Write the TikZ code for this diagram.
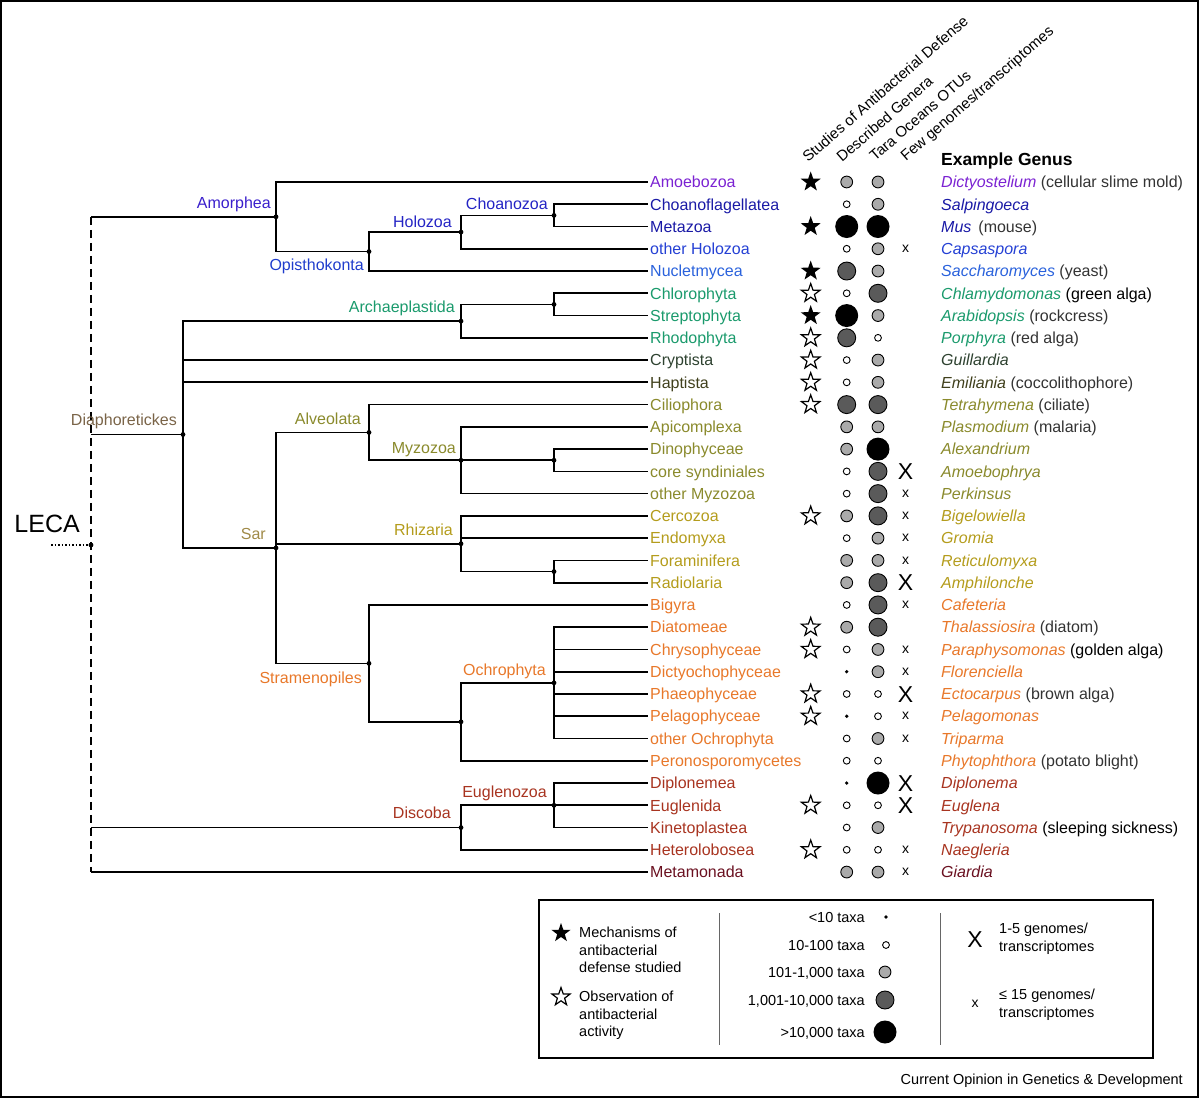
\documentclass[tikz,border=0pt]{standalone}
\usepackage{fontspec}
\setmainfont{Liberation Sans}
\usetikzlibrary{shapes.geometric}
\definecolor{cAmoeb}{HTML}{7B22D2}
\definecolor{cChoano}{HTML}{1A1AA6}
\definecolor{cAmor}{HTML}{3A1FCC}
\definecolor{cHolo}{HTML}{2424C4}
\definecolor{cOpis}{HTML}{1F3CCC}
\definecolor{cOHolo}{HTML}{2440D4}
\definecolor{cNucl}{HTML}{2A62DC}
\definecolor{cArch}{HTML}{1A9A6C}
\definecolor{cCrypt}{HTML}{2E4230}
\definecolor{cHapt}{HTML}{40401C}
\definecolor{cAlv}{HTML}{8A8A2C}
\definecolor{cRhiz}{HTML}{B49C1C}
\definecolor{cSar}{HTML}{A08A48}
\definecolor{cDiaph}{HTML}{7A6448}
\definecolor{cStram}{HTML}{E8782A}
\definecolor{cDisc}{HTML}{A83420}
\definecolor{cMeta}{HTML}{6A1020}
\definecolor{cNote}{HTML}{333333}
\definecolor{cLG}{HTML}{AAAAAA}
\definecolor{cDG}{HTML}{5A5A5A}
\newcommand\gnm[2]{\textcolor{#1}{\itshape #2}}
\begin{document}
\begin{tikzpicture}[x=1pt,y=-1pt,
  branch/.style={line width=1.7pt, black},
  fs16/.style={font=\fontsize{16}{19}\selectfont},
  leaf/.style={fs16, anchor=west, inner xsep=2pt, inner ysep=0pt, text height=11.5pt, text depth=0pt},
  clade/.style={fs16, anchor=east, inner sep=0pt, text height=11.5pt, text depth=0pt},
  genus/.style={fs16, anchor=west, inner sep=0pt, text height=11.5pt, text depth=0pt, text=cNote},
  hdr/.style={font=\fontsize{15}{18}\selectfont, anchor=base west, rotate=41, inner sep=0pt},
  leg/.style={font=\fontsize{14.5}{17.5}\selectfont, inner sep=0pt},
  legc/.style={leg, anchor=east, text height=10.4pt, text depth=0pt},
  legm/.style={leg, anchor=north west, align=left},
  cT/.style={circle, fill=black, inner sep=0pt, minimum size=3.6pt},
  cS/.style={circle, draw=black, line width=0.9pt, fill=white, inner sep=0pt, minimum size=6.8pt},
  cL/.style={circle, draw=black, line width=0.9pt, fill=cLG, inner sep=0pt, minimum size=11.8pt},
  cD/.style={circle, draw=black, line width=0.9pt, fill=cDG, inner sep=0pt, minimum size=18pt},
  cB/.style={circle, fill=black, inner sep=0pt, minimum size=23pt},
  starF/.style={star, star points=5, star point ratio=2.5, fill=black, inner sep=0pt, minimum size=21pt},
  starO/.style={star, star points=5, star point ratio=2.5, draw=black, line width=1.2pt, fill=white, inner sep=0pt, minimum size=19.5pt},
  xmX/.style={font=\fontsize{23}{23}\selectfont, inner sep=0pt, text height=16.5pt, text depth=0pt},
  xmx/.style={font=\fontsize{14}{14}\selectfont, inner sep=0pt, text height=7.3pt, text depth=0pt}
]
\useasboundingbox (0,0) rectangle (1200,1099);
\draw[line width=1.5pt] (1,1) rectangle (1198,1097);

% ---------- leaves ----------
\node[leaf, text=cAmoeb]  (l1)  at (648,182.00) {Amoebozoa};
\node[leaf, text=cChoano] (l2)  at (648,204.26) {Choanoflagellatea};
\node[leaf, text=cChoano] (l3)  at (648,226.52) {Metazoa};
\node[leaf, text=cOHolo]  (l4)  at (648,248.78) {other Holozoa};
\node[leaf, text=cNucl]   (l5)  at (648,271.04) {Nucletmycea};
\node[leaf, text=cArch]   (l6)  at (648,293.30) {Chlorophyta};
\node[leaf, text=cArch]   (l7)  at (648,315.56) {Streptophyta};
\node[leaf, text=cArch]   (l8)  at (648,337.82) {Rhodophyta};
\node[leaf, text=cCrypt]  (l9)  at (648,360.08) {Cryptista};
\node[leaf, text=cHapt]   (l10) at (648,382.34) {Haptista};
\node[leaf, text=cAlv]    (l11) at (648,404.60) {Ciliophora};
\node[leaf, text=cAlv]    (l12) at (648,426.86) {Apicomplexa};
\node[leaf, text=cAlv]    (l13) at (648,449.12) {Dinophyceae};
\node[leaf, text=cAlv]    (l14) at (648,471.38) {core syndiniales};
\node[leaf, text=cAlv]    (l15) at (648,493.64) {other Myzozoa};
\node[leaf, text=cRhiz]   (l16) at (648,515.90) {Cercozoa};
\node[leaf, text=cRhiz]   (l17) at (648,538.16) {Endomyxa};
\node[leaf, text=cRhiz]   (l18) at (648,560.42) {Foraminifera};
\node[leaf, text=cRhiz]   (l19) at (648,582.68) {Radiolaria};
\node[leaf, text=cStram]  (l20) at (648,604.94) {Bigyra};
\node[leaf, text=cStram]  (l21) at (648,627.20) {Diatomeae};
\node[leaf, text=cStram]  (l22) at (648,649.46) {Chrysophyceae};
\node[leaf, text=cStram]  (l23) at (648,671.72) {Dictyochophyceae};
\node[leaf, text=cStram]  (l24) at (648,693.98) {Phaeophyceae};
\node[leaf, text=cStram]  (l25) at (648,716.24) {Pelagophyceae};
\node[leaf, text=cStram]  (l26) at (648,738.50) {other Ochrophyta};
\node[leaf, text=cStram]  (l27) at (648,760.76) {Peronosporomycetes};
\node[leaf, text=cDisc]   (l28) at (648,783.02) {Diplonemea};
\node[leaf, text=cDisc]   (l29) at (648,805.28) {Euglenida};
\node[leaf, text=cDisc]   (l30) at (648,827.54) {Kinetoplastea};
\node[leaf, text=cDisc]   (l31) at (648,849.80) {Heterolobosea};
\node[leaf, text=cMeta]   (l32) at (648,872.06) {Metamonada};

% ---------- internal nodes ----------
\coordinate (choanozoa)  at (554,215.39);
\coordinate (holozoa)    at (461,232.08);
\coordinate (opistho)    at (369,251.56);
\coordinate (amorphea)   at (276,216.78);
\coordinate (chlstr)     at (554,304.43);
\coordinate (archae)     at (461,321.13);
\coordinate (dinocore)   at (554,460.25);
\coordinate (myzozoa)    at (461,460.25);
\coordinate (alveolata)  at (369,432.43);
\coordinate (forrad)     at (554,571.55);
\coordinate (rhizaria)   at (461,543.73);
\coordinate (ochrophyta) at (554,682.85);
\coordinate (ochropar)   at (461,721.80);
\coordinate (stramen)    at (369,663.37);
\coordinate (sar)        at (276,547.90);
\coordinate (diaph)      at (183,434.50);
\coordinate (euglenozoa) at (554,805.28);
\coordinate (discoba)    at (461,827.54);
\coordinate (root)       at (91,545);
\coordinate (rtop)       at (91,216.78);
\coordinate (rbot)       at (91,872.06);
\coordinate (lecaend)    at (51,545);

% ---------- branches ----------
\draw[branch, dash pattern=on 8pt off 5pt] (rtop) -- (rbot);
\draw[line width=1.5pt, dotted] (lecaend) -- (root);
\draw[branch] (rtop) -- (amorphea);
\draw[branch] (root |- diaph) -- (diaph);
\draw[branch] (root |- discoba) -- (discoba);
\draw[branch] (root |- l32.west) -- (l32.west);

\draw[branch] (amorphea) |- (l1.west);
\draw[branch] (amorphea) |- (opistho);
\draw[branch] (opistho) |- (holozoa);
\draw[branch] (opistho) |- (l5.west);
\draw[branch] (holozoa) |- (choanozoa);
\draw[branch] (holozoa) |- (l4.west);
\draw[branch] (choanozoa) |- (l2.west);
\draw[branch] (choanozoa) |- (l3.west);

\draw[branch] (diaph) |- (archae);
\draw[branch] (diaph) |- (l9.west);
\draw[branch] (diaph) |- (l10.west);
\draw[branch] (diaph) |- (sar);
\draw[branch] (archae) |- (chlstr);
\draw[branch] (archae) |- (l8.west);
\draw[branch] (chlstr) |- (l6.west);
\draw[branch] (chlstr) |- (l7.west);

\draw[branch] (sar) |- (alveolata);
\draw[branch] (sar) |- (rhizaria);
\draw[branch] (sar) |- (stramen);
\draw[branch] (alveolata) |- (l11.west);
\draw[branch] (alveolata) |- (myzozoa);
\draw[branch] (myzozoa) |- (l12.west);
\draw[branch] (myzozoa) -- (dinocore);
\draw[branch] (myzozoa) |- (l15.west);
\draw[branch] (dinocore) |- (l13.west);
\draw[branch] (dinocore) |- (l14.west);
\draw[branch] (rhizaria) |- (l16.west);
\draw[branch] (rhizaria) |- (l17.west);
\draw[branch] (rhizaria) |- (forrad);
\draw[branch] (forrad) |- (l18.west);
\draw[branch] (forrad) |- (l19.west);
\draw[branch] (stramen) |- (l20.west);
\draw[branch] (stramen) |- (ochropar);
\draw[branch] (ochropar) |- (ochrophyta);
\draw[branch] (ochropar) |- (l27.west);
\foreach \k in {21,...,26} \draw[branch] (ochrophyta) |- (l\k.west);

\draw[branch] (discoba) |- (euglenozoa);
\draw[branch] (discoba) |- (l31.west);
\draw[branch] (euglenozoa) |- (l28.west);
\draw[branch] (euglenozoa) |- (l29.west);
\draw[branch] (euglenozoa) |- (l30.west);

\foreach \p in {choanozoa,holozoa,opistho,amorphea,chlstr,archae,dinocore,myzozoa,alveolata,forrad,rhizaria,ochrophyta,ochropar,stramen,sar,diaph,euglenozoa,discoba,root}
  \fill (\p) circle (2.4pt);

% ---------- clade labels ----------
\node[clade, text=cAmor]  (tAmor)  at (271,203)   {Amorphea};
\node[clade, text=cOpis]  (tOpis)  at (364,265)   {Opisthokonta};
\node[clade, text=cHolo]  (tHolo)  at (452,222)   {Holozoa};
\node[clade, text=cHolo]  (tChoa)  at (548,204)   {Choanozoa};
\node[clade, text=cArch]  (tArch)  at (455,307)   {Archaeplastida};
\node[clade, text=cDiaph] (tDiaph) at (177,419.5) {Diaphoretickes};
\node[clade, text=cAlv]   (tAlv)   at (361,418.5) {Alveolata};
\node[clade, text=cAlv]   (tMyzo)  at (456,448)   {Myzozoa};
\node[clade, text=cSar]   (tSar)   at (266,533.5) {Sar};
\node[clade, text=cRhiz]  (tRhiz)  at (453,529.5) {Rhizaria};
\node[clade, text=cStram] (tStram) at (362,678)   {Stramenopiles};
\node[clade, text=cStram] (tOchro) at (546,669.5) {Ochrophyta};
\node[clade, text=cDisc]  (tEugl)  at (547,791.5) {Euglenozoa};
\node[clade, text=cDisc]  (tDisc)  at (451,812.5) {Discoba};
\node[font=\fontsize{25}{28}\selectfont, anchor=east, inner sep=0pt, text height=17.9pt, text depth=0pt] (tLECA) at (80,523.3) {LECA};

% ---------- column headers ----------
\node[hdr] (h1) at (808,163) {Studies of Antibacterial Defense};
\node[hdr] (h2) at (842,163) {Described Genera};
\node[hdr] (h3) at (875,162) {Tara Oceans OTUs};
\node[hdr] (h4) at (906,162) {Few genomes/transcriptomes};
\node[font=\fontsize{17.5}{20}\selectfont\bfseries, anchor=base west, inner sep=0pt] (h5) at (941,165.3) {Example Genus};

% ---------- data columns ----------
\foreach \vi/\vy/\vS/\vD/\vT/\vM in {
 1/182.00/F/L/L/n, 2/204.26/n/S/L/n, 3/226.52/F/B/B/n, 4/248.78/n/S/L/x,
 5/271.04/F/D/L/n, 6/293.30/O/S/D/n, 7/315.56/F/B/L/n, 8/337.82/O/D/S/n,
 9/360.08/O/S/L/n, 10/382.34/O/S/L/n, 11/404.60/O/D/D/n, 12/426.86/n/L/L/n,
 13/449.12/n/L/B/n, 14/471.38/n/S/D/X, 15/493.64/n/S/D/x, 16/515.90/O/L/D/x,
 17/538.16/n/S/L/x, 18/560.42/n/L/L/x, 19/582.68/n/L/D/X, 20/604.94/n/S/D/x,
 21/627.20/O/L/D/n, 22/649.46/O/S/L/x, 23/671.72/n/T/L/x, 24/693.98/O/S/S/X,
 25/716.24/O/T/S/x, 26/738.50/n/S/L/x, 27/760.76/n/S/S/n, 28/783.02/n/T/B/X,
 29/805.28/O/S/S/X, 30/827.54/n/S/L/n, 31/849.80/O/S/S/x, 32/872.06/n/L/L/x}{
  \edef\rowcmd{\noexpand\node[c\vD] (dg\vi) at (846.7,\vy) {};
               \noexpand\node[c\vT] (tr\vi) at (878,\vy) {};}\rowcmd
  \if\vS n\else\edef\rowcmd{\noexpand\node[star\vS] (st\vi) at (810.7,\vy) {};}\rowcmd\fi
  \if\vM n\else\edef\rowcmd{\noexpand\node[xm\vM] (xm\vi) at (905.5,\vy) {\vM};}\rowcmd\fi
}

% ---------- example genera ----------
\node[genus] (g1)  at (941,182.00) {\gnm{cAmoeb}{Dictyostelium} (cellular slime mold)};
\node[genus] (g2)  at (941,204.26) {\gnm{cChoano}{Salpingoeca}};
\node[genus] (g3)  at (941,226.52) {\gnm{cChoano}{Mus}\hspace{7pt}(mouse)};
\node[genus] (g4)  at (941,248.78) {\gnm{cOHolo}{Capsaspora}};
\node[genus] (g5)  at (941,271.04) {\gnm{cNucl}{Saccharomyces} (yeast)};
\node[genus, text=black] (g6)  at (941,293.30) {\gnm{cArch}{Chlamydomonas} (green alga)};
\node[genus] (g7)  at (941,315.56) {\gnm{cArch}{Arabidopsis} (rockcress)};
\node[genus] (g8)  at (941,337.82) {\gnm{cArch}{Porphyra} (red alga)};
\node[genus] (g9)  at (941,360.08) {\gnm{cCrypt}{Guillardia}};
\node[genus] (g10) at (941,382.34) {\gnm{cHapt}{Emiliania} (coccolithophore)};
\node[genus] (g11) at (941,404.60) {\gnm{cAlv}{Tetrahymena} (ciliate)};
\node[genus] (g12) at (941,426.86) {\gnm{cAlv}{Plasmodium} (malaria)};
\node[genus] (g13) at (941,449.12) {\gnm{cAlv}{Alexandrium}};
\node[genus] (g14) at (941,471.38) {\gnm{cAlv}{Amoebophrya}};
\node[genus] (g15) at (941,493.64) {\gnm{cAlv}{Perkinsus}};
\node[genus] (g16) at (941,515.90) {\gnm{cRhiz}{Bigelowiella}};
\node[genus] (g17) at (941,538.16) {\gnm{cRhiz}{Gromia}};
\node[genus] (g18) at (941,560.42) {\gnm{cRhiz}{Reticulomyxa}};
\node[genus] (g19) at (941,582.68) {\gnm{cRhiz}{Amphilonche}};
\node[genus] (g20) at (941,604.94) {\gnm{cStram}{Cafeteria}};
\node[genus] (g21) at (941,627.20) {\gnm{cStram}{Thalassiosira} (diatom)};
\node[genus, text=black] (g22) at (941,649.46) {\gnm{cStram}{Paraphysomonas} (golden alga)};
\node[genus] (g23) at (941,671.72) {\gnm{cStram}{Florenciella}};
\node[genus] (g24) at (941,693.98) {\gnm{cStram}{Ectocarpus} (brown alga)};
\node[genus] (g25) at (941,716.24) {\gnm{cStram}{Pelagomonas}};
\node[genus] (g26) at (941,738.50) {\gnm{cStram}{Triparma}};
\node[genus] (g27) at (941,760.76) {\gnm{cStram}{Phytophthora} (potato blight)};
\node[genus] (g28) at (941,783.02) {\gnm{cDisc}{Diplonema}};
\node[genus] (g29) at (941,805.28) {\gnm{cDisc}{Euglena}};
\node[genus, text=black] (g30) at (941,827.54) {\gnm{cDisc}{Trypanosoma} (sleeping sickness)};
\node[genus] (g31) at (941,849.80) {\gnm{cDisc}{Naegleria}};
\node[genus] (g32) at (941,872.06) {\gnm{cMeta}{Giardia}};

% ---------- legend ----------
\node[draw=black, line width=1.5pt, anchor=north west, inner sep=0pt, minimum width=614pt, minimum height=158pt] (legend) at (538,899) {};
\draw[line width=1pt, black!60] (719,913) -- (719,1045);
\draw[line width=1pt, black!60] (940,913) -- (940,1045);
\node[starF, minimum size=20pt] (lgF) at (561,933) {};
\node[legm] (lgFt) at (579,926.8) {Mechanisms of\\antibacterial\\defense studied};
\node[starO, minimum size=19pt] (lgO) at (561,997) {};
\node[legm] (lgOt) at (579,990.8) {Observation of\\antibacterial\\activity};
\node[legc] (lz1) at (865,917)  {<10 taxa};
\node[legc] (lz2) at (865,945)  {10-100 taxa};
\node[legc] (lz3) at (865,972)  {101-1,000 taxa};
\node[legc] (lz4) at (865,1000) {1,001-10,000 taxa};
\node[legc] (lz5) at (865,1032) {>10,000 taxa};
\node[cT] (lc1) at (886,917)  {};
\node[cS] (lc2) at (886,945)  {};
\node[cL] (lc3) at (885,972)  {};
\node[cD] (lc4) at (885,1000) {};
\node[cB] (lc5) at (885,1032) {};
\node[xmX] (lxX) at (975,939) {X};
\node[legm] (lxXt) at (999,922.8) {1-5 genomes/\\transcriptomes};
\node[xmx] (lxx) at (975,1004) {x};
\node[legm] (lxxt) at (999,988.8) {≤ 15 genomes/\\transcriptomes};
\node[leg, anchor=east, text height=10.4pt, text depth=0pt] (foot) at (1183,1079) {Current Opinion in Genetics \& Development};
\end{tikzpicture}
\end{document}
